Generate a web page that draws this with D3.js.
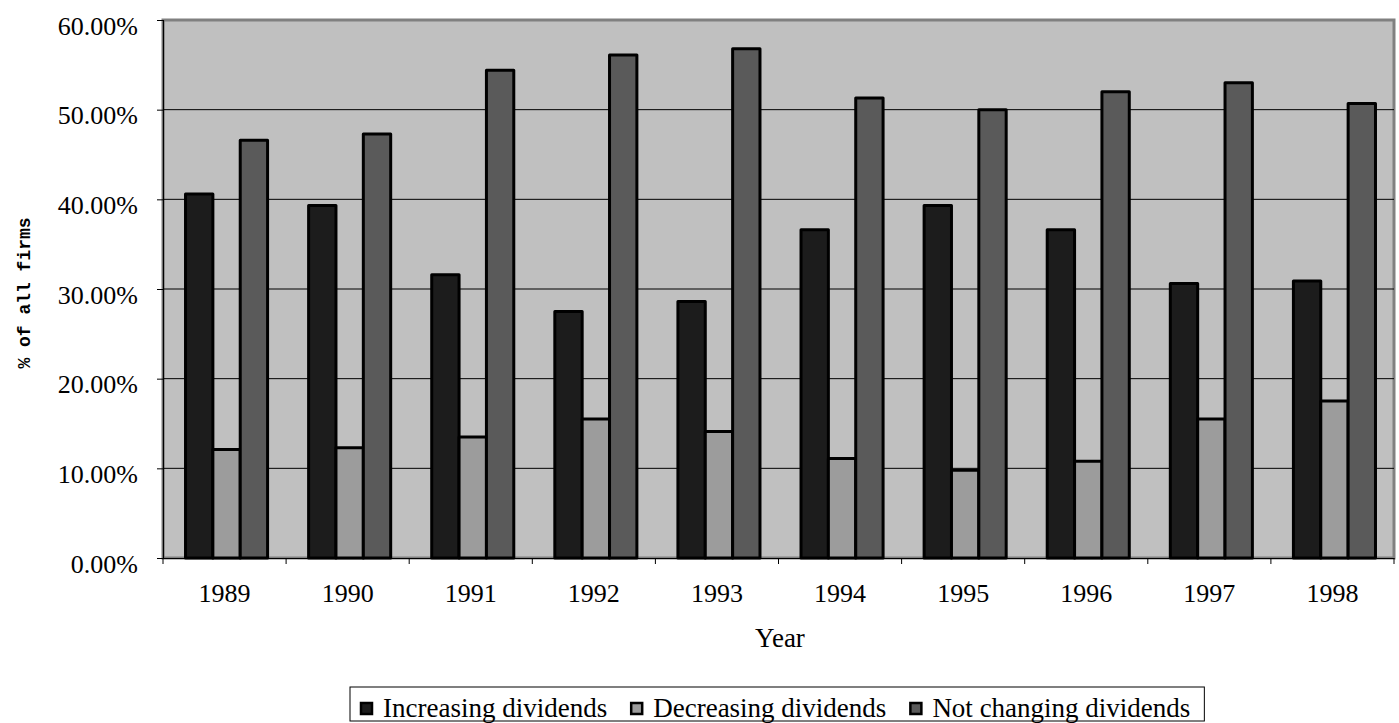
<!DOCTYPE html>
<html>
<head>
<meta charset="utf-8">
<script src="https://cdn.jsdelivr.net/npm/d3@7"></script>
<style>
  html, body { margin: 0; padding: 0; background: #fff; }
  svg { display: block; }
</style>
</head>
<body>
<svg id="chart" width="1399" height="723"></svg>
<script>
const years = ["1989","1990","1991","1992","1993","1994","1995","1996","1997","1998"];
const increasing  = [40.6, 39.3, 31.6, 27.5, 28.6, 36.6, 39.3, 36.6, 30.6, 30.9];
const decreasing  = [12.1, 12.3, 13.5, 15.5, 14.1, 11.1,  9.8, 10.8, 15.5, 17.5];
const notChanging = [46.6, 47.3, 54.4, 56.1, 56.8, 51.3, 50.0, 52.0, 53.0, 50.7];
const seriesNames = ["Increasing dividends", "Decreasing dividends", "Not changing dividends"];
const seriesColors = ["#1c1c1c", "#9c9c9c", "#5a5a5a"];
const yTicks = [0, 10, 20, 30, 40, 50, 60];

(function () {
const series = [increasing, decreasing, notChanging];
const svg = d3.select("#chart");
const serif = "'Liberation Serif', 'Times New Roman', serif";

const pL = 163, pR = 1394, pT = 20, pB = 558;
const x = d3.scaleBand().domain(years).range([pL, pR]).padding(0);
const y = d3.scaleLinear().domain([0, 60]).range([pB, pT]);
const bw = x.bandwidth();
const barW = bw / 4.5;
const x1 = d3.scaleBand().domain(d3.range(3)).range([0, barW * 3]).padding(0);

// plot area
svg.append("rect").attr("x", pL).attr("y", pT).attr("width", pR - pL).attr("height", pB - pT)
  .attr("fill", "#c0c0c0").attr("stroke", "#808080").attr("stroke-width", 3);

// gridlines
svg.append("g").selectAll("line").data(yTicks.filter(t => t > 0 && t < 60)).join("line")
  .attr("x1", pL).attr("x2", pR).attr("y1", d => y(d)).attr("y2", d => y(d))
  .attr("stroke", "#000").attr("stroke-width", 1);

// bars
const groups = svg.append("g").selectAll("g").data(years).join("g")
  .attr("transform", d => `translate(${x(d) + (bw - barW * 3) / 2 + 2},0)`);
groups.selectAll("rect").data((d, i) => series.map((s, k) => ({k, v: s[i]}))).join("rect")
  .attr("x", d => x1(d.k)).attr("width", x1.bandwidth())
  .attr("y", d => y(d.v)).attr("height", d => y(0) - y(d.v))
  .attr("fill", d => seriesColors[d.k]).attr("stroke", "#000").attr("stroke-width", 3)
  .attr("stroke-linejoin", "round");

// axes
const yAxis = d3.axisLeft(y).tickValues(yTicks).tickSize(6).tickFormat(d => d.toFixed(2) + "%");
const gy = svg.append("g").attr("transform", `translate(${pL},0)`).call(yAxis);
gy.select(".domain").attr("stroke", "#000").attr("stroke-width", 1.2);
gy.selectAll(".tick line").attr("stroke", "#000");
gy.selectAll(".tick text").attr("x", -25).attr("dy", null).attr("y", 14)
  .attr("font-family", serif).attr("font-size", 26).attr("fill", "#000");

const gx = svg.append("g").attr("transform", `translate(0,${pB})`)
  .call(d3.axisBottom(x).tickSize(0).tickSizeOuter(0));
gx.select(".domain").attr("stroke", "#000").attr("stroke-width", 1.2);
gx.selectAll(".tick text").attr("y", 44).attr("dy", null)
  .attr("font-family", serif).attr("font-size", 26).attr("fill", "#000");
// category boundary ticks
svg.append("g").selectAll("line").data(years.concat(["end"])).join("line")
  .attr("x1", d => d === "end" ? pR : x(d)).attr("x2", d => d === "end" ? pR : x(d))
  .attr("y1", pB).attr("y2", pB + 6).attr("stroke", "#000");

// axis titles
svg.append("text").attr("x", 780).attr("y", 647).attr("text-anchor", "middle")
  .attr("font-family", serif).attr("font-size", 27).text("Year");
svg.append("text").attr("transform", "translate(30,293) rotate(-90)").attr("text-anchor", "middle")
  .attr("font-family", "'Liberation Mono', 'DejaVu Sans Mono', monospace").attr("font-weight", "bold")
  .attr("font-size", 18).text("% of all firms");

// legend
const legend = svg.append("g");
const items = legend.selectAll("g").data(seriesNames).join("g");
items.append("rect").attr("width", 11).attr("height", 11).attr("y", 703)
  .attr("fill", (d, i) => seriesColors[i]).attr("stroke", "#000").attr("stroke-width", 2.5);
items.append("text").attr("y", 717).attr("font-family", serif).attr("font-size", 27).text(d => d);
let cx = 0;
const pos = [];
items.each(function(d, i) {
  const tw = d3.select(this).select("text").node().getComputedTextLength();
  pos.push(cx);
  d3.select(this).select("text").attr("x", 22);
  cx += 22 + tw + 24;
});
const totalW = cx - 24;
const legendLeft = 350, boxPadL = 11;
items.attr("transform", (d, i) => `translate(${legendLeft + boxPadL + pos[i]},0)`);
legend.insert("rect", ":first-child").attr("x", legendLeft).attr("y", 687)
  .attr("width", totalW + boxPadL + 14).attr("height", 34)
  .attr("fill", "#fff").attr("stroke", "#000").attr("stroke-width", 1);
})();
</script>
</body>
</html>
